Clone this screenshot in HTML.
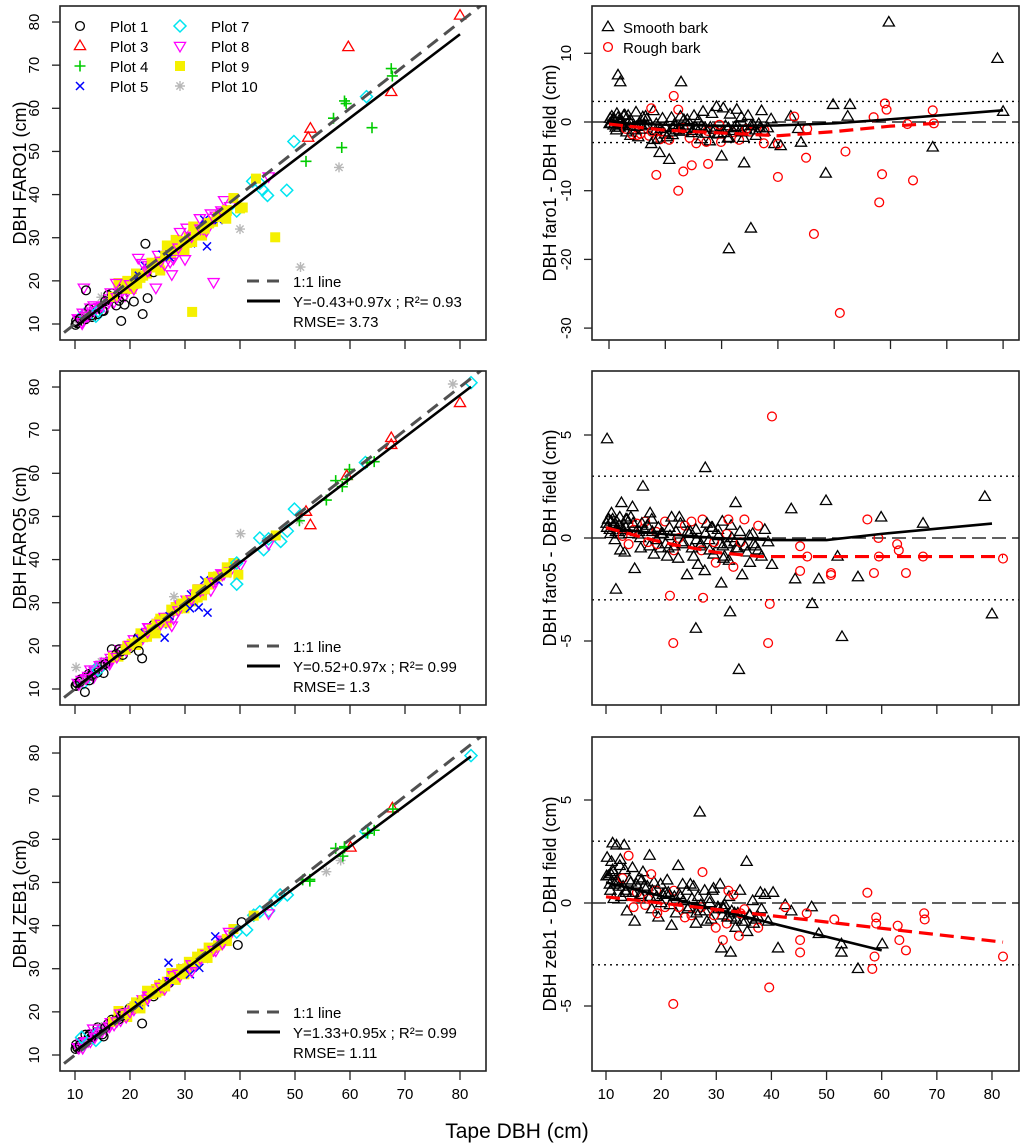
<!DOCTYPE html>
<html><head><meta charset="utf-8">
<style>
html,body{margin:0;padding:0;background:#fff;}
svg{display:block;font-family:"Liberation Sans",Arial,sans-serif;}
</style></head>
<body>
<svg id="fig" width="1024" height="1148" viewBox="0 0 1024 1148" xmlns="http://www.w3.org/2000/svg">
<defs>
<clipPath id="cl0"><rect x="60" y="6" width="426" height="334"/></clipPath>
<clipPath id="cl1"><rect x="60" y="371" width="426" height="333"/></clipPath>
<clipPath id="cl2"><rect x="60" y="737" width="426" height="333"/></clipPath>
<clipPath id="cr0"><rect x="592" y="6" width="427" height="334"/></clipPath>
<clipPath id="cr1"><rect x="592" y="371" width="427" height="333"/></clipPath>
<clipPath id="cr2"><rect x="592" y="737" width="427" height="333"/></clipPath>
</defs>
<text x="517" y="1138" font-size="21" text-anchor="middle">Tape DBH (cm)</text>
</svg>
<script>
// ---- shared cluster trees ----
const treeDBH = [10.2,10.5,10.8,11.0,11.3,11.6,11.9,12.2,12.5,12.8,
13.1,13.4,13.8,14.1,14.5,14.8,15.2,15.6,16.0,16.3,
16.7,17.1,17.5,17.9,18.3,18.7,19.1,19.5,19.9,20.3,
20.7,21.1,21.5,21.9,22.3,22.7,23.1,23.5,23.9,24.3,
24.7,25.1,25.5,25.9,26.3,26.7,27.1,27.5,27.9,28.3,
28.7,29.1,29.5,29.9,30.3,30.7,31.1,31.5,31.9,32.3,
32.7,33.1,33.5,33.9,34.3,34.7,35.1,35.6,36.1,36.6,
37.1,37.6,38.2,38.8,39.4,10.4,11.4,12.6,13.6,15.0,
16.5,18.0,19.3,21.3,23.3,25.3,27.3,29.3,31.3,33.3];
const treePlot = [1,8,10,1,8,7,1,8,1,8, 1,8,7,1,8,10,1,8,1,8, 1,8,1,9,8,1,8,9,1,9, 8,9,1,9,8,5,9,8,9,1,
9,8,9,5,8,9,1,9,8,9, 9,8,5,9,8,9,5,9,8,9, 8,9,5,8,9,8,9,8,5,8, 8,9,8,9,7,1,8,1,8,1, 8,1,8,9,8,9,8,9,9,8];
const treeBark = [0,0,0,0,0,0,0,0,0,0, 0,0,0,1,0,0,0,1,0,0, 0,1,0,0,0,0,1,0,0,0, 1,0,0,0,1,0,0,0,0,1,
0,0,1,0,0,0,0,1,0,0, 0,0,0,1,0,0,0,0,1,0, 0,1,0,0,0,0,1,0,0,0, 0,1,0,0,0,0,0,0,0,1, 0,0,1,0,0,0,1,0,0,0];
const faro1Diff = [0.5,0.8,-0.5,0.3,-1.2,0.6,-0.8,0.2,-0.3,1.0, -1.5,0.9,-2.0,-1.8,-0.6,1.4,-2.2,-1.7,0.7,-0.4,
0.4,-2.0,-3.2,1.6,-1.3,-2.4,-2.5,0.5,-1.8,-2.2, -2.6,0.6,-0.9,-1.2,1.8,0.8,-1.4,-1.0,0.3,-2.3,
-1.6,0.9,-3.1,0.2,-2.5,1.5,-0.9,-1.3,-2.8,1.2, -1.1,2.2,-1.8,-2.9,2.0,-0.6,-2.4,1.1,-1.5,-0.8,
1.8,-2.6,0.7,-2.3,-1.0,0.9,-1.4,-0.5,-2.0,-0.3, 1.6,-1.2,-0.9,0.4,-3.2,-0.2,1.2,0.9,-0.6,-1.9,
0.8,-2.6,-1.4,-1.9,0.3,-0.8,-2.9,-1.7,-2.3,-1.2];
const faro5Diff = [0.5,0.9,0.2,1.2,0.6,-0.1,0.8,0.3,1.0,1.7, 0.4,-0.7,0.9,-0.3,1.0,1.5,-1.5,0.7,0.3,-0.5,
2.5,0.8,0.6,-0.4,0.9,-0.8,0.3,0.5,-0.5,0.2, 0.8,-0.9,0.5,1.0,-0.6,0.3,-1.0,0.7,-0.3,0.6,
-1.8,0.2,0.8,-0.9,0.4,-1.3,-0.4,0.9,-1.6,0.7, -0.1,0.5,-0.8,-1.2,0.4,-0.3,0.8,-0.9,0.2,-1.1,
0.6,-1.4,1.7,-0.5,0.3,-1.8,0.9,-0.7,-1.2,0.2, -0.4,0.6,-0.9,0.4,-0.2,0.9,0.6,-0.6,0.9,0.4,
0.7,1.2,-0.3,-0.5,1.0,0.3,-0.6,0.5,-1.0,-0.2];
const zeb1Diff = [2.2,1.3,0.6,2.0,1.5,0.9,2.8,1.0,1.8,0.3, 0.8,1.6,-0.4,2.3,1.0,1.7,-0.9,0.5,1.2,0.3,
1.5,-0.1,0.8,2.3,-0.3,1.0,0.6,-0.7,0.9,0.4, -0.2,1.1,0.4,-1.1,0.6,-0.5,1.8,0.3,0.9,-0.7,
0.6,-0.2,-0.6,0.8,-1.0,0.3,-0.4,1.5,0.6,-0.9, 0.2,-0.8,0.7,-1.2,-0.2,0.9,-0.6,-0.1,-1.0,0.3,
-0.7,0.4,-1.2,-0.5,0.6,-0.9,-0.3,-1.4,-0.6,0.1, -0.8,-1.2,-0.3,0.4,-0.9,1.3,0.2,2.1,0.5,-0.2,
1.1,0.3,-0.5,0.5,0.4,0.9,-0.2,0.6,-0.3,-0.5];
// ---- second cluster of trees ----
const treeDBH2 = [10.1,10.7,11.2,11.8,12.4,13.0,13.6,14.2,14.9,15.5, 16.2,16.9,17.6,18.4,19.2,20.0,20.8,21.6,22.4,23.2,
24.0,24.8,25.6,26.4,27.2,28.0,28.8,29.6,30.4,31.2, 32.0,32.8,33.6,34.4,35.2,36.0,36.8,37.6,10.9,12.0];
const treePlot2 = [1,8,8,10,8,1,8,7,8,1, 8,9,8,1,9,8,9,5,9,8, 9,9,8,9,5,9,8,9,9,8, 9,8,9,9,8,9,8,9,1,8];
const treeBark2 = [0,0,0,0,0,1,0,0,0,0, 0,0,1,0,0,0,0,0,0,1, 0,0,0,0,0,0,0,1,0,0, 0,0,0,1,0,0,0,0,0,0];
const faro1Diff2 = [-0.3,0.4,-0.8,0.2,-0.5,-1.0,0.1,-1.2,-0.7,-0.2, -1.1,-0.6,-1.4,-0.3,-1.0,-0.8,-1.5,-0.4,-1.2,-0.9,
-0.5,-1.3,-1.0,-0.6,-1.7,-0.8,-1.1,-0.4,-1.6,-0.9, -1.3,-0.7,-1.5,-1.0,-0.6,-1.2,-0.9,-1.4,0.3,-0.1];
const faro5Diff2 = [0.7,0.4,0.9,0.3,0.6,0.1,0.5,0.2,0.7,0.3, 0.0,0.4,-0.2,0.3,-0.1,0.2,-0.3,0.1,-0.4,0.0,
-0.2,0.3,-0.5,-0.1,-0.3,0.2,-0.6,-0.2,0.1,-0.4, -0.3,0.0,-0.5,-0.2,-0.4,0.1,-0.3,-0.6,0.8,0.5];
const zeb1Diff2 = [1.3,0.9,1.6,1.0,0.8,1.2,0.6,1.1,0.5,0.9, 0.4,0.8,0.2,0.6,0.3,0.0,0.5,-0.1,0.3,-0.2,
0.1,-0.3,0.2,-0.5,-0.1,-0.4,0.0,-0.6,-0.3,-0.2, -0.7,-0.4,-0.8,-0.5,-0.9,-0.6,-1.0,-0.7,1.4,1.1];
// ---- extra (large / outlier) trees per method ----
const faro1ExtraDBH = [80,79,67.5,67.5,67.7,64,63,59,59.3,57,58.5,58,59.7,52.8,52.4,49.8,52,51,48.5,45,42.3,43.6,46.4,31.3,35.2,40,45.2,42.9,44.1,40,37.5,40.5,11.6,12,22.8,20.7,19,30,34,21.5,17.5,18.4,22.3,23.2,24.7,27.6];
const faro1ExtraDiff = [1.5,9.2,-3.7,1.7,-0.2,-8.5,-0.3,2.7,1.8,0.7,-7.6,-11.7,14.5,2.5,0.8,2.5,-4.3,-27.8,-7.5,-5.2,0.8,-1,-16.3,-18.5,-15.5,-8,-1,0.8,-3,-3.2,-3.1,-3.5,6.8,5.8,5.8,-5.5,-4.5,-5,-6,3.8,2,-7.7,-10,-7.2,-6.3,-6.1];
const faro1ExtraBark = [0,0,0,1,1,1,1,1,1,1,1,1,0,0,0,0,1,1,0,1,0,0,1,0,0,1,1,1,0,1,1,0,0,0,0,0,0,0,0,1,1,1,1,1,1,1];
const faro1ExtraPlot = [3,10,3,4,4,4,7,4,4,4,4,10,3,3,3,7,4,10,7,7,7,7,9,9,8,10,8,9,7,9,9,9,8,1,1,1,1,8,5,8,8,1,1,1,8,8];
const faro5ExtraDBH = [80,78.7,67.5,59.9,49.9,55.7,48.6,44.3,47.4,52.8,52,43.6,40.1,34.1,32.5,26.3,28,30.9,11.8,10.2,40.1,21.6,27.6,22.2,39.7,39.4,57.4,59.4,62.8,63.1,45.2,45.2,46.5,50.8,50.8,58.6,64.4,67.5,82,59.5,32.2];
const faro5ExtraDiff = [-3.7,2,0.7,1,1.8,-1.9,-2,-2,-3.2,-4.8,-0.9,1.4,-1.3,-6.4,-3.6,-4.4,3.4,-2.2,-2.5,4.8,5.9,-2.8,-2.9,-5.1,-3.2,-5.1,0.9,0,-0.3,-0.6,-0.4,-1.6,-0.9,-1.7,-1.8,-1.7,-1.7,-0.9,-1,-0.9,0.9];
const faro5ExtraBark = [0,0,0,0,0,0,0,0,0,0,0,0,0,0,0,0,0,0,0,0,1,1,1,1,1,1,1,1,1,1,1,1,1,1,1,1,1,1,1,1,1];
const faro5ExtraPlot = [3,10,3,4,7,4,7,7,7,3,3,7,8,5,5,5,10,5,1,10,10,1,8,1,9,7,4,3,7,4,7,8,9,10,4,4,4,3,7,4,9];
const zeb1ExtraDBH = [27,35.5,11.2,13.3,55.7,60.1,52.7,52.7,30.9,32.6,41.2,48.6,47.3,43.6,42.5,38,40.3,22.2,39.6,57.4,58.3,58.7,59,59,62.9,63.2,64.4,67.7,67.8,82,51.4,45.2,45.2,46.4,42.5,18.2,32.2,31.2,34.1];
const zeb1ExtraDiff = [4.4,2,2.9,2.8,-3.2,-2,-2,-2.4,-2.2,-2.4,-2.2,-1.5,-0.2,-0.4,-0.1,0.5,0.5,-4.9,-4.1,0.5,-3.2,-2.6,-0.7,-1,-1.1,-1.8,-2.3,-0.5,-0.8,-2.6,-0.8,-1.8,-2.4,-0.5,-0.2,1.4,0.6,-1.8,-1.6];
const zeb1ExtraBark = [0,0,0,0,0,0,0,0,0,0,0,0,0,0,0,0,0,1,1,1,1,1,1,1,1,1,1,1,1,1,1,1,1,1,1,1,1,1,1];
const zeb1ExtraPlot = [5,5,7,8,10,3,4,4,5,5,7,7,7,7,7,8,1,1,1,4,10,4,4,4,7,4,4,3,4,7,4,7,8,7,9,8,9,8,9];
// ---- fitted curves ----
const faro1SmoothFitX = [10,20,30,40,50,60,70,80];
const faro1SmoothFitY = [-0.1,-0.4,-0.55,-0.5,-0.2,0.4,1.05,1.7];
const faro1RoughFitX = [10,20,30,40,50,60,68];
const faro1RoughFitY = [-0.3,-1.2,-1.6,-2.0,-1.4,-0.6,-0.2];
const faro5SmoothFitX = [10,20,30,40,50,60,70,80];
const faro5SmoothFitY = [0.5,0.2,0.0,-0.1,-0.1,0.2,0.45,0.7];
const faro5RoughFitX = [10,20,30,38,50,82];
const faro5RoughFitY = [0.5,-0.2,-0.7,-0.9,-0.9,-0.9];
const zeb1SmoothFitX = [10,60];
const zeb1SmoothFitY = [1.0,-2.3];
const zeb1RoughFitX = [10,82];
const zeb1RoughFitY = [0.3,-1.9];
const regIntercept = [-0.43,0.52,1.33];
const regSlope = [0.97,0.97,0.95];
const regEndX = [80,82,82];
const legendLabels = ["Y=-0.43+0.97x ; R\u00b2= 0.93","Y=0.52+0.97x ; R\u00b2= 0.99","Y=1.33+0.95x ; R\u00b2= 0.99"];
const rmseLabels = ["RMSE= 3.73","RMSE= 1.3","RMSE= 1.11"];
const leftTitles = ["DBH FARO1 (cm)","DBH FARO5 (cm)","DBH ZEB1 (cm)"];
const rightTitles = ["DBH faro1 - DBH field (cm)","DBH faro5 - DBH field (cm)","DBH zeb1 - DBH field (cm)"];
const xTicks = [10,20,30,40,50,60,70,80];
const leftYTicks = [10,20,30,40,50,60,70,80];
const rightYTicksTop = [10,0,-10,-20,-30];
const rightYTicksLow = [5,0,-5];

const NS = "http://www.w3.org/2000/svg";
const svg = document.getElementById('fig');
function mk(tag, attrs, parent){
  const e = document.createElementNS(NS, tag);
  for (const k in attrs) e.setAttribute(k, attrs[k]);
  (parent||svg).appendChild(e);
  return e;
}
const plotStyle = {1:['circle','#000'],3:['tri','#ff0000'],4:['plus','#00cc00'],5:['x','#0000ff'],7:['diamond','#00e5f0'],8:['itri','#ff00ff'],9:['sqx','#f5f000'],10:['star','#b8b8b8']};
function marker(g, type, cx, cy, color){
  let e;
  const sw = 1.3;
  if (type==='circle'){
    e = mk('circle',{cx:cx,cy:cy,r:4.4,fill:'none',stroke:color,'stroke-width':sw},g);
  } else if (type==='tri'){
    e = mk('path',{d:`M${cx},${cy-5.9}L${cx-5.6},${cy+3.6}L${cx+5.6},${cy+3.6}Z`,fill:'none',stroke:color,'stroke-width':sw},g);
  } else if (type==='itri'){
    e = mk('path',{d:`M${cx},${cy+5.9}L${cx-5.6},${cy-3.6}L${cx+5.6},${cy-3.6}Z`,fill:'none',stroke:color,'stroke-width':sw},g);
  } else if (type==='plus'){
    e = mk('path',{d:`M${cx-5.5},${cy}H${cx+5.5}M${cx},${cy-5.5}V${cy+5.5}`,fill:'none',stroke:color,'stroke-width':1.6},g);
  } else if (type==='x'){
    e = mk('path',{d:`M${cx-4},${cy-4}L${cx+4},${cy+4}M${cx-4},${cy+4}L${cx+4},${cy-4}`,fill:'none',stroke:color,'stroke-width':1.5},g);
  } else if (type==='diamond'){
    e = mk('path',{d:`M${cx},${cy-6}L${cx+6},${cy}L${cx},${cy+6}L${cx-6},${cy}Z`,fill:'none',stroke:color,'stroke-width':1.5},g);
  } else if (type==='sqx'){
    e = mk('rect',{x:cx-4.5,y:cy-4.5,width:9,height:9,fill:color,stroke:color,'stroke-width':1},g);
  } else {
    e = mk('path',{d:`M${cx-5},${cy}H${cx+5}M${cx},${cy-5}V${cy+5}M${cx-3.6},${cy-3.6}L${cx+3.6},${cy+3.6}M${cx-3.6},${cy+3.6}L${cx+3.6},${cy-3.6}`,fill:'none',stroke:color,'stroke-width':1.4},g);
  }
  return e;
}
function allPoints(i){
  const ex = [[faro1ExtraDBH,faro1ExtraDiff,faro1ExtraBark,faro1ExtraPlot],[faro5ExtraDBH,faro5ExtraDiff,faro5ExtraBark,faro5ExtraPlot],[zeb1ExtraDBH,zeb1ExtraDiff,zeb1ExtraBark,zeb1ExtraPlot]][i];
  const cd = [faro1Diff,faro5Diff,zeb1Diff][i];
  const cd2 = [faro1Diff2,faro5Diff2,zeb1Diff2][i];
  const pts = [];
  for (let k=0;k<treeDBH.length;k++) pts.push({x:treeDBH[k],d:cd[k],b:treeBark[k],p:treePlot[k]});
  for (let k=0;k<treeDBH2.length;k++) pts.push({x:treeDBH2[k],d:cd2[k],b:treeBark2[k],p:treePlot2[k]});
  for (let k=0;k<ex[0].length;k++) pts.push({x:ex[0][k],d:ex[1][k],b:ex[2][k],p:ex[3][k]});
  return pts;
}
const tops = [6,371,737];
const boxH = 334;

for (let i=0;i<3;i++){
  const top = tops[i];
  // ---------- LEFT PANEL ----------
  const lx = v => 75 + (v-10)*5.5;
  const ly = v => top + 318 - (v-10)*4.314;
  const L = mk('g',{});
  
  
  const pts = allPoints(i);
  const pg = mk('g',{'clip-path':`url(#cl${i})`},L);
  
  
  pts.forEach(p=>{
    const st = plotStyle[p.p];
    const m = marker(pg, st[0], lx(p.x), ly(p.x+p.d), st[1]);
    
    
  });
  const lg = mk('g',{'clip-path':`url(#cl${i})`},L);
  const one = mk('line',{x1:lx(5),y1:ly(5),x2:lx(90),y2:ly(90),stroke:'#505050','stroke-width':3,'stroke-dasharray':'13,8'},lg);
  
  
  const rl = mk('line',{x1:lx(10),y1:ly(regIntercept[i]+regSlope[i]*10),x2:lx(regEndX[i]),y2:ly(regIntercept[i]+regSlope[i]*regEndX[i]),stroke:'#000','stroke-width':2.6},lg);
  
  
  const fr = mk('rect',{x:60,y:top,width:426,height:boxH,fill:'none',stroke:'#222','stroke-width':1.6},L);
  
  
  xTicks.forEach(t=>{
    const tk = mk('line',{x1:lx(t),y1:top+boxH,x2:lx(t),y2:top+boxH+9,stroke:'#222','stroke-width':1.3},L);
    
    
    if (i===2){
      const tl = mk('text',{x:lx(t),y:1099,'font-size':15,'text-anchor':'middle'},L);
      tl.textContent = t;
      
      
    }
  });
  leftYTicks.forEach(t=>{
    const tk = mk('line',{x1:52,y1:ly(t),x2:60,y2:ly(t),stroke:'#222','stroke-width':1.3},L);
    
    
    const tl = mk('text',{x:0,y:0,'font-size':15,'text-anchor':'middle',transform:`translate(39,${ly(t)}) rotate(-90)`},L);
    tl.textContent = t;
    
    
  });
  const yt = mk('text',{x:0,y:0,'font-size':18,'text-anchor':'middle',transform:`translate(26,${top+167}) rotate(-90)`},L);
  yt.textContent = leftTitles[i];
  
  
  // regression legend
  const rg = mk('g',{},L);
  
  
  const ly0 = top + 275;
  const d1 = mk('line',{x1:247,y1:ly0,x2:280,y2:ly0,stroke:'#505050','stroke-width':3,'stroke-dasharray':'12,8'},rg);
  
  
  const t1 = mk('text',{x:293,y:ly0+6,'font-size':15},rg);
  t1.textContent = '1:1 line';
  
  
  const d2 = mk('line',{x1:247,y1:ly0+20,x2:280,y2:ly0+20,stroke:'#000','stroke-width':3},rg);
  
  
  const t2 = mk('text',{x:293,y:ly0+26,'font-size':15},rg);
  t2.textContent = legendLabels[i];
  
  
  const t3 = mk('text',{x:293,y:ly0+46,'font-size':15},rg);
  t3.textContent = rmseLabels[i];
  
  

  // ---------- RIGHT PANEL ----------
  const rx = i===0 ? (v => 609 + (v-10)*5.63) : (v => 606 + (v-10)*5.514);
  const zero = [122,538,903][i];
  const sc = i===0 ? 6.87 : 20.6;
  const ry = v => zero - v*sc;
  const R = mk('g',{});
  
  
  const rcg = mk('g',{'clip-path':`url(#cr${i})`},R);
  [3,-3].forEach(v=>{
    const dl = mk('line',{x1:592,y1:ry(v),x2:1019,y2:ry(v),stroke:'#000','stroke-width':1.4,'stroke-dasharray':'2,4'},rcg);
    
    
  });
  const zl = mk('line',{x1:592,y1:ry(0),x2:1019,y2:ry(0),stroke:'#000','stroke-width':1.3,'stroke-dasharray':'14,6'},rcg);
  
  
  pts.forEach(p=>{
    const m = p.b ? marker(rcg,'circle',rx(p.x),ry(p.d),'#ff0000') : marker(rcg,'tri',rx(p.x),ry(p.d),'#000');
    
    
  });
  const fits = [[faro1SmoothFitX,faro1SmoothFitY,faro1RoughFitX,faro1RoughFitY],[faro5SmoothFitX,faro5SmoothFitY,faro5RoughFitX,faro5RoughFitY],[zeb1SmoothFitX,zeb1SmoothFitY,zeb1RoughFitX,zeb1RoughFitY]][i];
  const sp = fits[0].map((x,k)=>rx(x)+','+ry(fits[1][k])).join(' ');
  const sfl = mk('polyline',{points:sp,fill:'none',stroke:'#000','stroke-width':2.6},rcg);
  
  
  const rp = fits[2].map((x,k)=>rx(x)+','+ry(fits[3][k])).join(' ');
  const rfl = mk('polyline',{points:rp,fill:'none',stroke:'#ff0000','stroke-width':3.2,'stroke-dasharray':'14,7'},rcg);
  
  
  const rf = mk('rect',{x:592,y:top,width:427,height:boxH,fill:'none',stroke:'#222','stroke-width':1.6},R);
  
  
  xTicks.forEach(t=>{
    const tk = mk('line',{x1:rx(t),y1:top+boxH,x2:rx(t),y2:top+boxH+9,stroke:'#222','stroke-width':1.3},R);
    
    
    if (i===2){
      const tl = mk('text',{x:rx(t),y:1099,'font-size':15,'text-anchor':'middle'},R);
      tl.textContent = t;
      
      
    }
  });
  (i===0 ? rightYTicksTop : rightYTicksLow).forEach(t=>{
    const tk = mk('line',{x1:584,y1:ry(t),x2:592,y2:ry(t),stroke:'#222','stroke-width':1.3},R);
    
    
    const tl = mk('text',{x:0,y:0,'font-size':15,'text-anchor':'middle',transform:`translate(571,${ry(t)}) rotate(-90)`},R);
    tl.textContent = t;
    
    
  });
  const rt = mk('text',{x:0,y:0,'font-size':18,'text-anchor':'middle',transform:`translate(556,${top+167}) rotate(-90)`},R);
  rt.textContent = rightTitles[i];
  
  
}

// ---- plot legend (top-left) ----
const legPlots = [1,3,4,5,7,8,9,10];
const PL = mk('g',{});


legPlots.forEach((p,k)=>{
  const col = Math.floor(k/4), row = k%4;
  const mx = col ? 180 : 80, y = 26 + row*20;
  const st = plotStyle[p];
  const m = marker(PL, st[0], mx, y, st[1]);
  
  
  const t = mk('text',{x:col?211:110,y:y+6,'font-size':15},PL);
  t.textContent = 'Plot '+p;
  
  
});
// ---- bark legend (top-right) ----
const BL = mk('g',{});


const bm1 = marker(BL,'tri',608,27,'#000');


const bt1 = mk('text',{x:623,y:33,'font-size':15},BL);
bt1.textContent = 'Smooth bark';


const bm2 = marker(BL,'circle',608,47,'#ff0000');


const bt2 = mk('text',{x:623,y:53,'font-size':15},BL);
bt2.textContent = 'Rough bark';


</script>
</body></html>
